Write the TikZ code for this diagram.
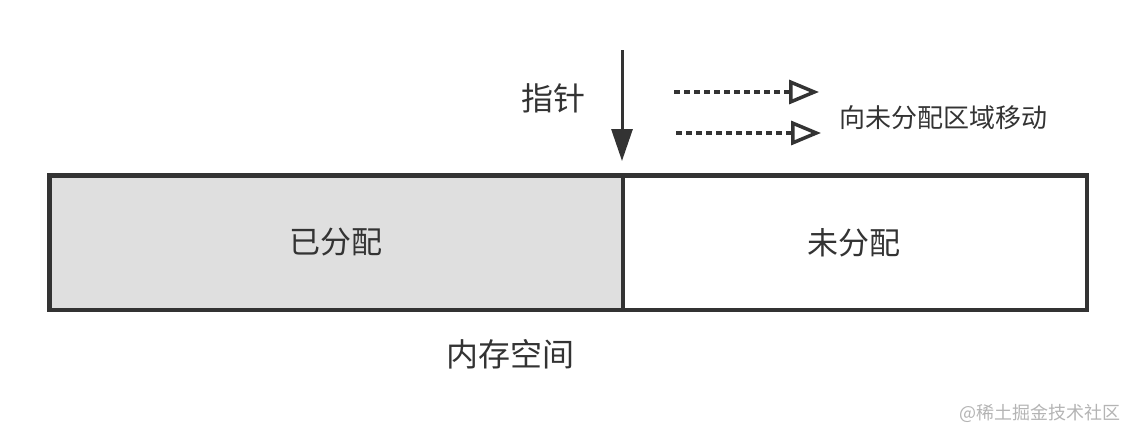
\documentclass[tikz,border=0pt]{standalone}
\usepackage{fontspec}
\setmainfont{Noto Sans CJK SC}
\usetikzlibrary{arrows.meta}
\definecolor{ink}{HTML}{333333}
\definecolor{usedgray}{HTML}{DFDFDF}
\definecolor{markgray}{HTML}{B4B4B4}
\begin{document}
\begin{tikzpicture}[x=1pt,y=-1pt,
	every node/.style={text=ink, inner sep=0pt},
	block/.style={draw=ink, line width=3pt, minimum height=133pt, font=\fontsize{31}{36}\selectfont},
	lbl/.style={font=\fontsize{32}{37}\selectfont},
	moveline/.style={ink, line width=4pt, dash pattern=on 6pt off 4pt, -{Triangle[open,length=30pt,width=24pt,line width=3.5pt]}}]
	
	\useasboundingbox (0,0) rectangle (1136,440);
	
	\node[block, fill=usedgray, minimum width=572pt] (alloc) at (336,242.5) {已分配};
	\node[block, fill=white, minimum width=464pt] (free) at (854,242.5) {未分配};
	\draw[ink, line width=3pt] (alloc.north west) rectangle (free.south east);
	\draw[ink, line width=3pt] (alloc.north east) -- (alloc.south east);
	
	\node[lbl] (ptr) at (553,98) {指针};
	\node[lbl] (mem) at (510,354) {内存空间};
	\node[font=\fontsize{26}{30}\selectfont] (move) at (943,118) {向未分配区域移动};
	\node[text=markgray, font=\fontsize{18}{21}\selectfont] (mark) at (1040,413) {@稀土掘金技术社区};
	
	\coordinate (ptrtop) at (622,50);
	\coordinate (ptrtip) at (622,161);
	\coordinate (m1a) at (674,92);
	\coordinate (m1b) at (819,92);
	\coordinate (m2a) at (676,133);
	\coordinate (m2b) at (821,133);
	
	\draw[ink, line width=3pt, -{Triangle[length=32pt,width=21pt]}] (ptrtop) -- (ptrtip);
	\draw[moveline] (m1a) -- (m1b);
	\draw[moveline] (m2a) -- (m2b);

\end{tikzpicture}
\end{document}
